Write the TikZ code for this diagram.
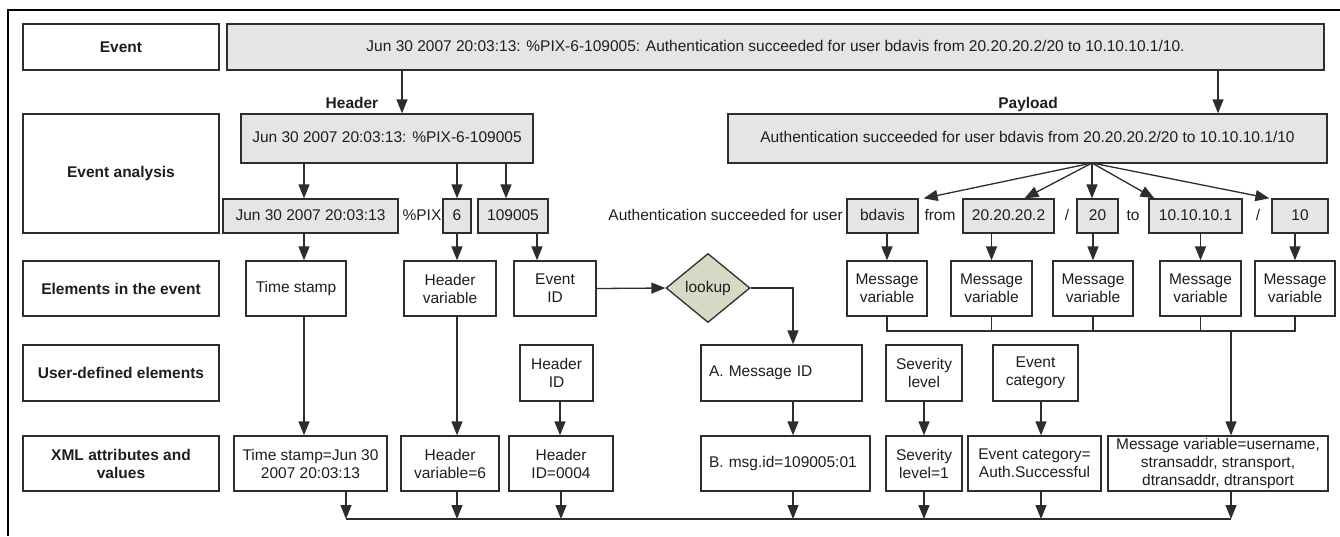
\documentclass[tikz,border=0pt]{standalone}
\usepackage{fontspec}
\setmainfont{Liberation Sans}
\usetikzlibrary{arrows.meta,shapes.geometric,calc}
\definecolor{lc}{RGB}{45,45,45}
\definecolor{gfill}{RGB}{229,229,229}
\definecolor{dfill}{RGB}{212,218,196}
\definecolor{tc}{RGB}{30,30,30}
\newcommand{\fsz}{\fontsize{15.5}{18}\selectfont}
\begin{document}
\begin{tikzpicture}[x=1pt,y=-1pt,
 bx/.style={draw=lc, line width=1.3pt, fill=white, inner sep=1pt, align=center, font=\fsz, text=tc},
 gbx/.style={bx, fill=gfill, text height=11pt, text depth=3pt},
 lb/.style={bx, font=\fsz\bfseries},
 tx/.style={inner sep=0pt, font=\fsz, text=tc, text height=11pt, text depth=3pt},
 btx/.style={inner sep=0pt, font=\fsz\bfseries, text=tc},
 lft/.style={align=left, inner xsep=8pt},
 arr/.style={draw=lc, line width=1.3pt, -{Triangle[length=14pt,width=11pt]}},
 ln/.style={draw=lc, line width=1.3pt},
 sz/.style 2 args={minimum width=#1pt, minimum height=#2pt},
]
\useasboundingbox (0,0) rectangle (1340,536);
\draw[line width=1.4pt, black] (1340,10) -- (8,10) -- (8,536);

% left labels
\node[lb, sz={196}{46}]  (lEv) at (121,47)    {Event};
\node[lb, sz={196}{119}] (lEa) at (121,173.5) {Event analysis};
\node[lb, sz={196}{55}]  (lEl) at (121,288.5) {Elements in the event};
\node[lb, sz={196}{56}]  (lUd) at (121,373)   {User-defined elements};
\node[lb, sz={196}{55}]  (lXm) at (121,463.5) {XML attributes and\\values};

% event
\node[gbx, sz={1097}{46}] (ev) at (775.5,47) {Jun 30 2007 20:03:13: \%PIX-6-109005: Authentication succeeded for user bdavis from 20.20.20.2/20 to 10.10.10.1/10.};
\node[btx] (hl) at (352,103) {Header};
\node[btx] (pl) at (1028,104) {Payload};
\node[gbx, sz={292}{49}] (hdr) at (387,138.5) {Jun 30 2007 20:03:13: \%PIX-6-109005};
\node[gbx, sz={599}{49}] (pay) at (1027.5,138.5) {Authentication succeeded for user bdavis from 20.20.20.2/20 to 10.10.10.1/10};

% row 2
\node[gbx, sz={175}{34}] (ts0) at (310.5,216) {Jun 30 2007 20:03:13};
\node[tx] (pix) at (422,216) {\%PIX};
\node[gbx, sz={28}{34}] (six) at (457,216) {6};
\node[gbx, sz={70}{34}] (eid0) at (513,216) {109005};
\node[tx, anchor=east] (auth) at (843,216) {Authentication succeeded for user};
\node[gbx, sz={71}{34}] (bd) at (882.5,216) {bdavis};
\node[tx] (from) at (940,216) {from};
\node[gbx, sz={91}{34}] (ip1) at (1008.5,216) {20.20.20.2};
\node[tx] (sl1) at (1067,216) {/};
\node[gbx, sz={41}{34}] (p1) at (1097.5,216) {20};
\node[tx] (to) at (1133,216) {to};
\node[gbx, sz={93}{34}] (ip2) at (1195.5,216) {10.10.10.1};
\node[tx] (sl2) at (1258,216) {/};
\node[gbx, sz={56}{34}] (p2) at (1300,216) {10};

% elements row
\node[bx, sz={100}{55}] (ts) at (296,288.5) {Time stamp};
\node[bx, sz={92}{55}] (hv) at (450,288.5) {Header\\variable};
\node[bx, sz={82}{55}] (eid) at (555,288.5) {Event\\ID};
\node[draw=lc, line width=1.3pt, fill=dfill, diamond, minimum width=84pt, minimum height=69pt, inner sep=0pt, font=\fsz, text=tc] (lk) at (708,288) {lookup};
\node[bx, sz={80}{55}] (mv1) at (887,288.5) {Message\\variable};
\node[bx, sz={81}{55}] (mv2) at (991.5,288.5) {Message\\variable};
\node[bx, sz={80}{55}] (mv3) at (1093,288.5) {Message\\variable};
\node[bx, sz={81}{55}] (mv4) at (1200.5,288.5) {Message\\variable};
\node[bx, sz={80}{55}] (mv5) at (1295,288.5) {Message\\variable};

% user-defined row
\node[bx, sz={73}{56}] (hid) at (556.5,373) {Header\\ID};
\node[bx, lft, sz={161}{56}, text width=145pt] (msgA) at (781.5,373) {A. Message ID};
\node[bx, sz={76}{56}] (sev) at (924,373) {Severity\\level};
\node[bx, sz={85}{56}] (ecat) at (1035.5,373) {Event\\category};

% xml row
\node[bx, sz={153}{55}] (tsv) at (310.5,463.5) {Time stamp=Jun 30\\2007 20:03:13};
\node[bx, sz={98}{55}] (hvv) at (450,463.5) {Header\\variable=6};
\node[bx, sz={104}{55}] (hidv) at (561,463.5) {Header\\ID=0004};
\node[bx, lft, sz={169}{55}, text width=153pt] (msgB) at (785.5,463.5) {B. msg.id=109005:01};
\node[bx, sz={76}{55}] (sevv) at (924,463.5) {Severity\\level=1};
\node[bx, sz={133}{55}] (ecatv) at (1034.5,463.5) {Event category=\\Auth.Successful};
\node[bx, sz={220}{55}] (msgv) at (1218,463.5) {Message variable=username,\\stransaddr, stransport,\\dtransaddr, dtransport};

% column coordinates
\coordinate (xA) at (304,0);
\coordinate (xB) at (457,0);
\coordinate (xC) at (506,0);
\coordinate (xD) at (537,0);
\coordinate (xE) at (560,0);
\coordinate (xF) at (793,0);
\coordinate (xH) at (402,0);
\coordinate (xP) at (1218,0);
\coordinate (xG) at (1231,0);
\coordinate (xK) at (1041,0);
\coordinate (fan) at (1092,163);
\coordinate (mb) at (0,331);
\coordinate (busL) at (346,519);
\coordinate (busR) at (1231,519);

% top arrows
\draw[arr] (ev.south -| xH) -- (hdr.north -| xH);
\draw[arr] (ev.south -| xP) -- (pay.north -| xP);
\draw[arr] (hdr.south -| xA) -- (ts0.north -| xA);
\draw[arr] (hdr.south -| xB) -- (six.north -| xB);
\draw[arr] (hdr.south -| xC) -- (eid0.north -| xC);
\draw[arr] (ts0.south -| xA) -- (ts.north -| xA);
\draw[arr] (six.south -| xB) -- (hv.north -| xB);
\draw[arr] (eid0.south -| xD) -- (eid.north -| xD);
\draw[arr] (ts.south -| xA) -- (tsv.north -| xA);
\draw[arr] (hv.south -| xB) -- (hvv.north -| xB);
\draw[arr] (hid.south -| xE) -- (hidv.north -| xE);
\draw[arr] (eid.east) -- (lk.west);
\draw[arr] (lk.east) -| (msgA.north -| xF);
\draw[arr] (msgA.south -| xF) -- (msgB.north -| xF);
\draw[arr] (sev.south) -- (sevv.north);
\draw[arr] (ecat.south -| xK) -- (ecatv.north -| xK);

% payload fan
\draw[arr] (fan) -- ([xshift=5pt]bd.north east);
\draw[arr] (fan) -- ([xshift=16pt]ip1.north);
\draw[arr] (fan) -- (fan |- p1.north);
\draw[arr] (fan) -- ([xshift=6pt]ip2.north west);
\draw[arr] (fan) -- ([xshift=-2pt]p2.north west);

% payload pieces to message variables
\draw[arr] (bd.south -| mv1.north) -- (mv1.north);
\draw[arr] (ip1.south -| mv2.north) -- (mv2.north);
\draw[arr] (p1.south -| mv3.north) -- (mv3.north);
\draw[arr] (ip2.south -| mv4.north) -- (mv4.north);
\draw[arr] (p2.south -| mv5.north) -- (mv5.north);

% message variable bus
\draw[ln] (mv1.south) -- (mv1.south |- mb) -- (mv5.south |- mb) -- (mv5.south);
\draw[ln] (mv2.south) -- (mv2.south |- mb);
\draw[ln] (mv3.south) -- (mv3.south |- mb);
\draw[ln] (mv4.south) -- (mv4.south |- mb);
\draw[arr] (xG |- mb) -- (msgv.north -| xG);

% bottom bus
\draw[arr] (tsv.south -| busL) -- (busL);
\draw[arr] (hvv.south -| xB) -- (busL -| xB);
\draw[arr] (hidv.south) -- (hidv.south |- busL);
\draw[arr] (msgB.south -| xF) -- (busL -| xF);
\draw[arr] (sevv.south) -- (sevv.south |- busL);
\draw[arr] (ecatv.south -| xK) -- (busL -| xK);
\draw[arr] (msgv.south -| busR) -- (busR);
\draw[ln] (busL) -- (busR);
\end{tikzpicture}
\end{document}
